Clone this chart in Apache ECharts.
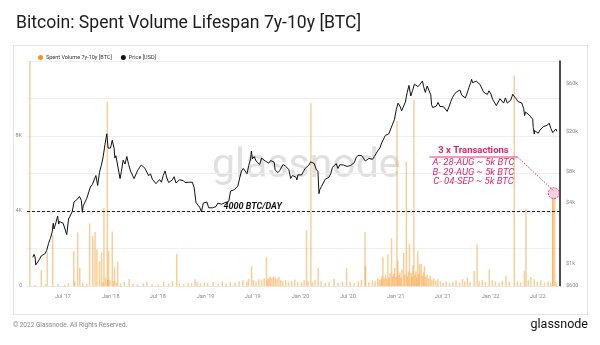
<!DOCTYPE html>
<html>
<head>
<meta charset="utf-8">
<script src="https://cdn.jsdelivr.net/npm/echarts@6/dist/echarts.min.js"></script>
<style>
html,body{margin:0;padding:0;background:#fff;}
#chart{width:600px;height:345px;}
</style>
</head>
<body>
<div id="chart"></div>
<script>
// ---- data ----
const spentData = [
['2017-02-24',15000],['2017-03-15',60],['2017-04-09',850],['2017-04-25',90],['2017-05-02',1850],
['2017-05-23',2750],['2017-06-12',120],['2017-07-08',80],['2017-07-22',150],['2017-08-12',1850],
['2017-08-16',250],['2017-08-27',2860],['2017-09-04',970],['2017-09-15',180],['2017-10-01',120],
['2017-10-12',3340],['2017-10-24',2650],['2017-11-02',2880],['2017-11-09',1960],['2017-11-19',1320],
['2017-11-27',1800],['2017-12-02',200],['2017-12-06',4150],['2017-12-12',450],['2017-12-19',9840],
['2017-12-21',350],['2017-12-24',1850],['2017-12-29',300],['2018-01-07',2910],['2018-01-12',250],
['2018-01-16',1000],['2018-01-22',180],['2018-01-28',1320],['2018-02-08',150],['2018-02-22',220],
['2018-03-13',370],['2018-03-28',120],['2018-04-14',90],['2018-05-06',150],['2018-05-20',240],
['2018-06-09',110],['2018-07-03',90],['2018-07-24',220],['2018-08-12',130],['2018-08-27',260],
['2018-09-12',1710],['2018-09-22',140],['2018-10-09',110],['2018-10-26',160],['2018-11-08',140],
['2018-11-21',370],['2018-11-29',220],['2018-12-12',130],['2018-12-27',170],['2019-01-09',160],
['2019-01-30',210],['2019-02-19',110],['2019-03-06',260],['2019-03-21',140],['2019-04-06',210],
['2019-04-24',190],['2019-05-10',260],['2019-05-24',310],['2019-06-08',230],['2019-06-15',370],
['2019-06-27',1060],['2019-07-04',320],['2019-07-14',260],['2019-07-24',360],['2019-08-04',310],
['2019-08-14',420],['2019-08-23',1540],['2019-08-28',360],['2019-09-02',460],['2019-09-07',490],
['2019-09-13',410],['2019-09-19',520],['2019-09-26',460],['2019-10-03',390],['2019-10-10',480],
['2019-10-17',310],['2019-10-25',260],['2019-11-05',310],['2019-11-16',210],['2019-11-28',260],
['2019-12-10',350],['2019-12-21',210],['2020-01-05',200],['2020-01-15',310],['2020-01-24',2970],
['2020-01-30',260],['2020-02-10',9750],['2020-02-16',210],['2020-02-26',330],['2020-03-09',970],
['2020-03-20',260],['2020-04-05',160],['2020-04-20',220],['2020-05-09',370],['2020-05-24',180],
['2020-06-10',240],['2020-06-26',970],['2020-07-10',210],['2020-07-25',160],['2020-08-10',250],
['2020-08-22',320],['2020-09-05',2880],['2020-09-07',1060],['2020-09-20',210],['2020-10-04',310],
['2020-10-14',260],['2020-10-24',420],['2020-10-30',330],['2020-11-05',360],['2020-11-09',520],
['2020-11-13',1540],['2020-11-18',410],['2020-11-23',600],['2020-11-27',380],['2020-12-02',1700],
['2020-12-06',450],['2020-12-10',700],['2020-12-16',2550],['2020-12-20',520],['2020-12-24',640],
['2020-12-28',970],['2021-01-02',480],['2021-01-06',8800],['2021-01-09',1360],['2021-01-13',580],
['2021-01-17',720],['2021-01-21',450],['2021-01-25',880],['2021-02-01',1770],['2021-02-05',620],
['2021-02-11',6620],['2021-02-15',540],['2021-02-19',760],['2021-02-23',2240],['2021-03-01',680],
['2021-03-04',520],['2021-03-08',1110],['2021-03-12',9940],['2021-03-16',600],['2021-03-20',780],
['2021-03-23',450],['2021-03-27',1850],['2021-03-31',640],['2021-04-03',1170],['2021-04-09',1180],
['2021-04-14',560],['2021-04-18',720],['2021-04-22',1060],['2021-04-27',480],['2021-05-02',620],
['2021-05-08',390],['2021-05-14',540],['2021-05-20',330],['2021-05-27',420],['2021-06-04',290],
['2021-06-12',360],['2021-06-22',240],['2021-07-02',190],['2021-07-14',260],['2021-07-27',150],
['2021-08-09',220],['2021-08-21',310],['2021-09-03',180],['2021-09-15',370],['2021-09-24',260],
['2021-10-04',440],['2021-10-14',220],['2021-10-30',800],['2021-11-10',2210],['2021-11-18',260],
['2021-11-30',330],['2021-12-12',210],['2021-12-27',900],['2022-01-08',310],['2022-01-20',240],
['2022-02-03',190],['2022-02-15',280],['2022-03-01',530],['2022-03-14',220],['2022-04-02',11220],
['2022-04-14',260],['2022-04-26',190],['2022-05-11',800],['2022-05-17',4130],['2022-05-26',310],
['2022-06-05',480],['2022-06-18',360],['2022-06-30',210],['2022-07-13',290],['2022-07-27',180],
['2022-08-10',240],['2022-08-20',150],['2022-08-28',4700],['2022-08-29',4650],['2022-09-04',4700],
['2022-09-10',200]
];

const priceData = [
['2017-03-08',1150],['2017-03-12',1230],['2017-03-16',1170],['2017-03-19',970],['2017-03-24',930],['2017-03-26',965],
['2017-04-02',1100],['2017-04-09',1190],['2017-04-16',1180],['2017-04-23',1250],['2017-04-30',1350],
['2017-05-07',1580],['2017-05-14',1770],['2017-05-21',2050],['2017-05-25',2500],['2017-05-28',2200],
['2017-06-04',2520],['2017-06-11',2950],['2017-06-15',2450],['2017-06-18',2600],['2017-06-25',2500],
['2017-07-02',2500],['2017-07-09',2500],['2017-07-16',1930],['2017-07-23',2750],['2017-07-30',2870],
['2017-08-06',3250],['2017-08-13',4050],['2017-08-20',4100],['2017-08-27',4350],['2017-09-03',4600],
['2017-09-10',4200],['2017-09-14',3200],['2017-09-17',3700],['2017-09-24',3650],['2017-10-01',4400],
['2017-10-08',4600],['2017-10-15',5700],['2017-10-22',6000],['2017-10-29',6150],['2017-11-05',7400],
['2017-11-12',5900],['2017-11-19',8000],['2017-11-26',9300],['2017-12-03',11300],['2017-12-10',15000],
['2017-12-17',19100],['2017-12-22',13800],['2017-12-24',14000],['2017-12-31',13800],
['2018-01-07',16500],['2018-01-14',13800],['2018-01-17',11000],['2018-01-21',11600],['2018-01-28',11400],
['2018-02-06',6900],['2018-02-11',8100],['2018-02-18',10500],['2018-02-25',9600],['2018-03-04',11400],
['2018-03-11',9500],['2018-03-18',8200],['2018-03-25',8400],['2018-04-01',6900],['2018-04-08',7000],
['2018-04-15',8350],['2018-04-22',8900],['2018-04-29',9400],['2018-05-06',9650],['2018-05-13',8700],
['2018-05-20',8500],['2018-05-27',7350],['2018-06-03',7700],['2018-06-10',6800],['2018-06-17',6500],
['2018-06-24',6150],['2018-07-01',6350],['2018-07-08',6750],['2018-07-15',6350],['2018-07-22',7400],
['2018-07-29',8200],['2018-08-05',7000],['2018-08-12',6300],['2018-08-19',6400],['2018-08-26',6700],
['2018-09-02',7200],['2018-09-09',6250],['2018-09-16',6500],['2018-09-23',6700],['2018-09-30',6630],
['2018-10-07',6600],['2018-10-14',6300],['2018-10-21',6420],['2018-10-28',6350],['2018-11-04',6480],
['2018-11-11',6350],['2018-11-18',5600],['2018-11-25',4000],['2018-12-02',4150],['2018-12-09',3600],
['2018-12-16',3240],['2018-12-23',3950],['2018-12-30',3850],
['2019-01-06',4050],['2019-01-13',3550],['2019-01-20',3550],['2019-01-27',3550],['2019-02-03',3450],
['2019-02-10',3650],['2019-02-17',3950],['2019-02-24',3850],['2019-03-03',3850],['2019-03-10',3950],
['2019-03-17',4000],['2019-03-24',4000],['2019-03-31',4100],['2019-04-07',5200],['2019-04-14',5100],
['2019-04-21',5350],['2019-04-28',5300],['2019-05-05',5800],['2019-05-12',7000],['2019-05-19',8200],
['2019-05-26',8700],['2019-06-02',8700],['2019-06-09',7700],['2019-06-16',9300],['2019-06-23',10800],
['2019-06-26',12900],['2019-06-30',10800],['2019-07-07',11400],['2019-07-14',10300],['2019-07-21',10600],
['2019-07-28',9500],['2019-08-04',11000],['2019-08-11',11400],['2019-08-18',10300],['2019-08-25',10100],
['2019-09-01',9800],['2019-09-08',10400],['2019-09-15',10300],['2019-09-22',10000],['2019-09-25',8400],
['2019-09-29',8100],['2019-10-06',7900],['2019-10-13',8300],['2019-10-20',8200],['2019-10-26',9500],
['2019-11-03',9200],['2019-11-10',8800],['2019-11-17',8500],['2019-11-24',6900],['2019-12-01',7400],
['2019-12-08',7500],['2019-12-15',7100],['2019-12-18',6700],['2019-12-22',7500],['2019-12-29',7400],
['2020-01-05',7500],['2020-01-12',8100],['2020-01-19',8700],['2020-01-26',8600],['2020-02-02',9350],
['2020-02-09',10100],['2020-02-16',9900],['2020-02-23',9700],['2020-03-01',8550],['2020-03-08',8100],
['2020-03-12',4900],['2020-03-15',5350],['2020-03-22',5800],['2020-03-29',5900],['2020-04-05',6800],
['2020-04-12',6900],['2020-04-19',7100],['2020-04-26',7700],['2020-05-03',8900],['2020-05-10',8700],
['2020-05-17',9700],['2020-05-24',8700],['2020-05-31',9450],['2020-06-07',9750],['2020-06-14',9400],
['2020-06-21',9300],['2020-06-28',9100],['2020-07-05',9100],['2020-07-12',9300],['2020-07-19',9200],
['2020-07-26',9950],['2020-08-02',11100],['2020-08-09',11700],['2020-08-16',11900],['2020-08-23',11650],
['2020-08-30',11700],['2020-09-06',10300],['2020-09-13',10330],['2020-09-20',10900],['2020-09-27',10800],
['2020-10-04',10700],['2020-10-11',11400],['2020-10-18',11500],['2020-10-25',13100],['2020-11-01',13800],
['2020-11-08',15500],['2020-11-15',16000],['2020-11-22',18400],['2020-11-29',18200],['2020-12-06',19150],
['2020-12-13',19200],['2020-12-20',23800],['2020-12-27',26300],
['2021-01-03',33000],['2021-01-10',38300],['2021-01-17',36000],['2021-01-24',32300],['2021-01-31',33100],
['2021-02-07',39200],['2021-02-14',48700],['2021-02-21',57400],['2021-02-28',45100],['2021-03-07',51200],
['2021-03-14',59000],['2021-03-21',57500],['2021-03-28',55800],['2021-04-04',58700],['2021-04-11',59800],
['2021-04-14',63500],['2021-04-18',56200],['2021-04-25',49000],['2021-05-02',56600],['2021-05-09',58200],
['2021-05-16',46400],['2021-05-19',37000],['2021-05-23',34700],['2021-05-30',35600],['2021-06-06',35800],
['2021-06-13',39000],['2021-06-20',35600],['2021-06-27',34700],['2021-07-04',35300],['2021-07-11',34200],
['2021-07-18',31800],['2021-07-25',35400],['2021-08-01',39900],['2021-08-08',43800],['2021-08-15',47000],
['2021-08-22',49300],['2021-08-29',48800],['2021-09-05',51700],['2021-09-12',46000],['2021-09-19',47300],
['2021-09-26',43200],['2021-10-03',48200],['2021-10-10',55000],['2021-10-17',61500],['2021-10-20',65900],
['2021-10-24',61000],['2021-10-31',61300],['2021-11-07',63300],['2021-11-10',65000],['2021-11-14',65500],
['2021-11-21',58700],['2021-11-28',57200],['2021-12-05',49400],['2021-12-12',50100],['2021-12-19',46700],
['2021-12-26',50800],
['2022-01-02',47300],['2022-01-09',41800],['2022-01-16',43100],['2022-01-23',36300],['2022-01-30',37900],
['2022-02-06',42400],['2022-02-13',42200],['2022-02-20',38400],['2022-02-27',43200],['2022-03-06',38400],
['2022-03-13',37800],['2022-03-20',41300],['2022-03-27',46900],['2022-04-03',46400],['2022-04-10',42100],
['2022-04-17',39700],['2022-04-24',39500],['2022-05-01',38500],['2022-05-08',34000],['2022-05-12',28900],
['2022-05-15',31300],['2022-05-22',30300],['2022-05-29',29400],['2022-06-05',29900],['2022-06-12',26600],
['2022-06-14',22100],['2022-06-18',19000],['2022-06-19',20600],['2022-06-26',21000],['2022-07-03',19300],
['2022-07-10',20800],['2022-07-17',20800],['2022-07-24',22600],['2022-07-31',23300],['2022-08-07',23200],
['2022-08-14',24300],['2022-08-21',21500],['2022-08-28',19600],['2022-09-04',19800],['2022-09-09',21300],
['2022-09-13',20200]
];

const xTickDates = ['2017-07-01','2018-01-01','2018-07-01','2019-01-01','2019-07-01','2020-01-01',
                    '2020-07-01','2021-01-01','2021-07-01','2022-01-01','2022-07-01'];
const xTickLabels = ["Jul '17","Jan '18","Jul '18","Jan '19","Jul '19","Jan '20",
                     "Jul '20","Jan '21","Jul '21","Jan '22","Jul '22"];
const leftTicks = [0, 4000, 8000];
const leftTickLabels = ['0', '4K', '8K'];
const rightTicks = [600, 1000, 4000, 8000, 20000, 60000];
const rightTickLabels = ['$600', '$1k', '$4k', '$8k', '$20k', '$60k'];
const thresholdValue = 4000;
const annotationLines = ['A- 28-AUG ~ 5k BTC', 'B- 29-AUG ~ 5k BTC', 'C- 04-SEP ~ 5k BTC'];

// ---- chart ----
function ts(d){ const p = d.split('-'); return new Date(+p[0], +p[1]-1, +p[2]).getTime(); }
const xTickTs = xTickDates.map(ts);
const pink = '#e3256b';
const chart = echarts.init(document.getElementById('chart'), null, {renderer:'canvas'});
const FF = 'Roboto, "Noto Sans", sans-serif';
const HALF_YEAR = 182 * 24 * 3600 * 1000;

chart.setOption({
  animation: false,
  textStyle: {fontFamily: FF},
  title: {
    text: 'Bitcoin: Spent Volume Lifespan 7y-10y [BTC]',
    left: 11, top: 10,
    textStyle: {fontSize: 17.6, fontWeight: 'normal', color: '#1c1c1c', fontFamily: FF}
  },
  graphic: [
    {type:'rect', z:-10, shape:{x:13.5, y:45.5, width:574, height:269},
     style:{fill:'#fff', stroke:'#e4e4e4', lineWidth:1}},
    {type:'text', z:-5, left:212, top:146,
     style:{text:'glassnode', fontSize:41, fontFamily:FF, fill:'#e0e0e0'}},
    {type:'text', left:13, top:322,
     style:{text:'© 2022 Glassnode. All Rights Reserved.', fontSize:6.5, fontFamily:FF, fill:'#888'}},
    {type:'text', right:12, top:318,
     style:{text:'glassnode', fontSize:12.5, fontFamily:FF, fill:'#111', fontWeight:'normal'}}
  ],
  legend: {
    left: 33, top: 49.5,
    itemWidth: 5, itemHeight: 5, itemGap: 9,
    icon: 'circle',
    textStyle: {fontSize: 5.5, color: '#333', padding:[0,0,0,-2]},
    data: [
      {name:'Spent Volume 7y-10y [BTC]', itemStyle:{color:'#f7931a', opacity:1}},
      {name:'Price [USD]', itemStyle:{color:'#111'}}
    ]
  },
  grid: {left: 27, right: 40, top: 61, bottom: 59},
  xAxis: {
    type: 'time',
    min: ts('2017-02-16'), max: ts('2022-09-22'),
    minInterval: HALF_YEAR, maxInterval: HALF_YEAR,
    axisLine: {show: true, lineStyle:{color:'#e6e6e6'}},
    axisTick: {show: false},
    splitLine: {show: false},
    axisLabel: {
      formatter: function(v){
        let best = -1, bd = Infinity;
        xTickTs.forEach((t,i)=>{ const d = Math.abs(t - v); if (d < bd){bd = d; best = i;} });
        return bd < 20*24*3600*1000 ? xTickLabels[best] : '';
      },
      fontSize: 5.5, color: '#888', margin: 8, hideOverlap: false
    }
  },
  yAxis: [
    {
      type: 'value', min: 0, max: 12000, interval: 2000, position: 'left',
      axisLine: {show:false}, axisTick:{show:false},
      splitLine: {show:true, lineStyle:{color:'#efefef', width:1}},
      axisLabel: {
        fontSize: 5.5, color: '#888', margin: 5,
        formatter: function(v){ const i = leftTicks.indexOf(v); return i >= 0 ? leftTickLabels[i] : ''; }
      }
    },
    {
      type: 'log', logBase: 10, min: 600, max: 100000, position: 'right',
      axisLine: {show:true, lineStyle:{color:'#111', width:1.5}},
      axisTick: {show:false},
      splitLine: {show:false},
      axisLabel: {
        customValues: rightTicks,
        fontSize: 5.5, color: '#888', margin: 6,
        formatter: function(v){
          let best = 0, bd = Infinity;
          rightTicks.forEach((t,i)=>{ const d = Math.abs(Math.log(t) - Math.log(v)); if (d < bd){bd = d; best = i;} });
          return rightTickLabels[best];
        }
      }
    }
  ],
  series: [
    {
      name: 'Spent Volume 7y-10y [BTC]',
      type: 'bar',
      yAxisIndex: 0,
      barWidth: 1.5,
      z: 2,
      itemStyle: {color: 'rgba(247,147,26,0.45)'},
      data: spentData.map(d => [ts(d[0]), d[1]]),
      markLine: {
        silent: true,
        symbol: ['none','none'],
        label: {show:false},
        data: [
          {yAxis: thresholdValue, lineStyle:{color:'#222', type:[3,2], width:1}},
          [{coord:[ts('2021-05-11'), 6880], lineStyle:{color:'#f07aa4', type:'solid', width:1.5}},
           {coord:[ts('2022-04-14'), 6880]}],
          [{coord:[ts('2022-04-14'), 6880], lineStyle:{color:pink, type:[1.5,1.5], width:1}},
           {coord:[ts('2022-08-30'), 5100]}]
        ]
      },
      markPoint: {
        silent: true,
        data: [
          {coord:[ts('2019-07-01'), thresholdValue], symbol:'circle', symbolSize:0,
           label:{show:true, position:'top', distance:0, formatter:'4000 BTC/DAY',
                  fontSize:9, fontWeight:'bold', fontStyle:'italic', color:'#111', fontFamily:FF}},
          {coord:[ts('2022-09-01'), 4950], symbol:'circle', symbolSize:11,
           itemStyle:{color:'rgba(240,90,150,0.28)', borderColor:pink, borderWidth:0.8, borderType:[2,1]},
           label:{show:false}},
          {coord:[ts('2021-10-27'), 6880], symbol:'circle', symbolSize:0,
           label:{show:true, position:'top', distance:1, formatter:'3 x Transactions',
                  fontSize:9.5, fontWeight:'bold', color:pink, fontFamily:FF}},
          {coord:[ts('2021-10-27'), 6880], symbol:'circle', symbolSize:0,
           label:{show:true, position:'bottom', distance:1, formatter: annotationLines.join('\n'),
                  fontSize:9.5, fontStyle:'italic', color:pink, lineHeight:9.5, fontFamily:FF, align:'center'}}
        ]
      }
    },
    {
      name: 'Price [USD]',
      type: 'line',
      yAxisIndex: 1,
      symbol: 'none',
      z: 3,
      lineStyle: {color:'#111', width:1},
      itemStyle: {color:'#111'},
      data: priceData.map(d => [ts(d[0]), d[1]])
    }
  ]
});
</script>
</body>
</html>
